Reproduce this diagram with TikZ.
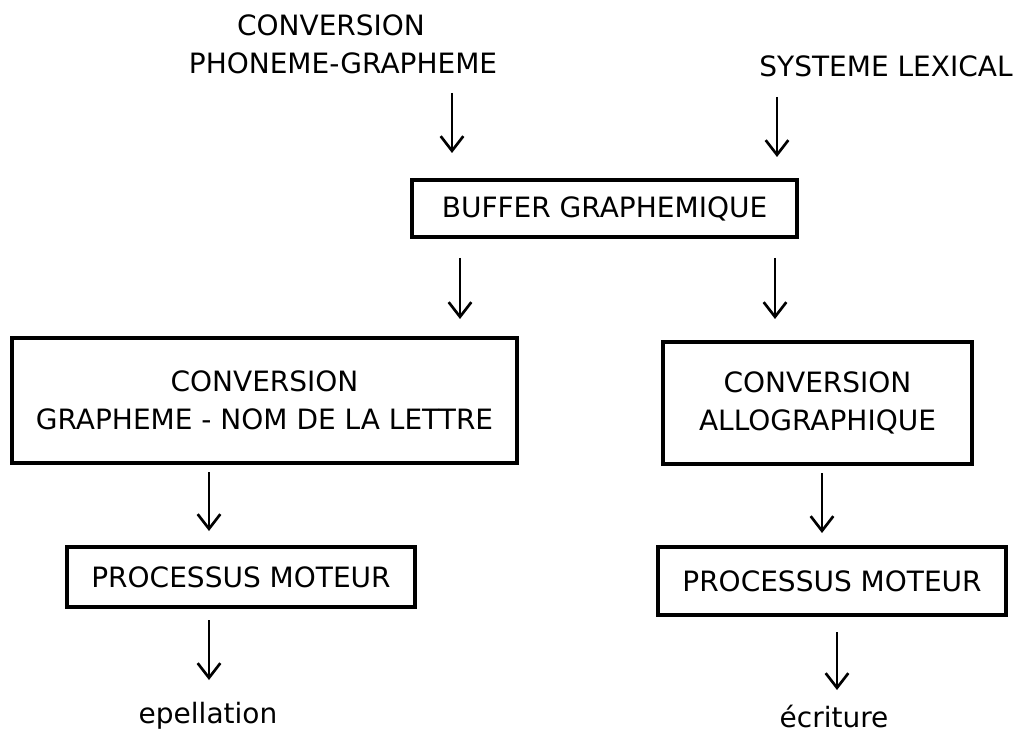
\documentclass[tikz,border=0pt]{standalone}
\usepackage{fontspec}
\setmainfont{DejaVu Sans}
\usetikzlibrary{arrows.meta}

\tikzset{every picture/.style={line width=0.75pt}}
\tikzset{
  boite/.style={draw, line width=2.4pt, inner sep=0pt, align=center},
  texte/.style={inner sep=0.75pt, align=center},
  fleche/.style={line width=2pt, -{Straight Barb[length=11pt,width=17pt,line width=2pt]}}
}

\begin{document}
\begin{tikzpicture}[x=0.75pt,y=0.75pt,yscale=-1,xscale=1,font=\fontsize{21}{28.5}\selectfont]
\useasboundingbox (0,0) rectangle (1020,734);

% Text Node
\node [texte] (conv) at (331,25) {CONVERSION};
% Text Node
\node [texte] (phon) at (343,63) {PHONEME-GRAPHEME};
% Text Node
\node [texte] (sysl) at (886,66) {SYSTEME LEXICAL};

%Shape: Rectangle
\node [boite, minimum width=288.75pt, minimum height=42.75pt] (buffer) at (604.5,208.5) {BUFFER GRAPHEMIQUE};
%Shape: Rectangle
\node [boite, minimum width=378.75pt, minimum height=93.75pt] (convnom) at (264.5,400.5) {CONVERSION\\GRAPHEME - NOM DE LA LETTRE};
%Shape: Rectangle
\node [boite, minimum width=231.75pt, minimum height=91.5pt] (convallo) at (817.5,403) {CONVERSION\\ALLOGRAPHIQUE};
%Shape: Rectangle
\node [boite, minimum width=261pt, minimum height=45pt] (motg) at (241,577) {PROCESSUS MOTEUR};
%Shape: Rectangle
\node [boite, minimum width=261pt, minimum height=51pt] (motd) at (832,581) {PROCESSUS MOTEUR};

% Text Node
\node [texte] (epel) at (208,716) {epellation};
% Text Node
\node [texte] (ecri) at (834,716) {écriture};

% arrow ends
\coordinate (a1) at (452,93);   \coordinate (b1) at (452,153);
\coordinate (a2) at (777,97);   \coordinate (b2) at (777,157);
\coordinate (a3) at (460,258);  \coordinate (b3) at (460,319);
\coordinate (a4) at (775,258);  \coordinate (b4) at (775,319);
\coordinate (a5) at (209,472);  \coordinate (b5) at (209,531);
\coordinate (a6) at (822,473);  \coordinate (b6) at (822,533);
\coordinate (a7) at (209,620);  \coordinate (b7) at (209,680);
\coordinate (a8) at (837,632);  \coordinate (b8) at (837,690);

%Straight Lines
\draw [fleche] (a1) -- (b1);
\draw [fleche] (a2) -- (b2);
\draw [fleche] (a3) -- (b3);
\draw [fleche] (a4) -- (b4);
\draw [fleche] (a5) -- (b5);
\draw [fleche] (a6) -- (b6);
\draw [fleche] (a7) -- (b7);
\draw [fleche] (a8) -- (b8);

\end{tikzpicture}
\end{document}
